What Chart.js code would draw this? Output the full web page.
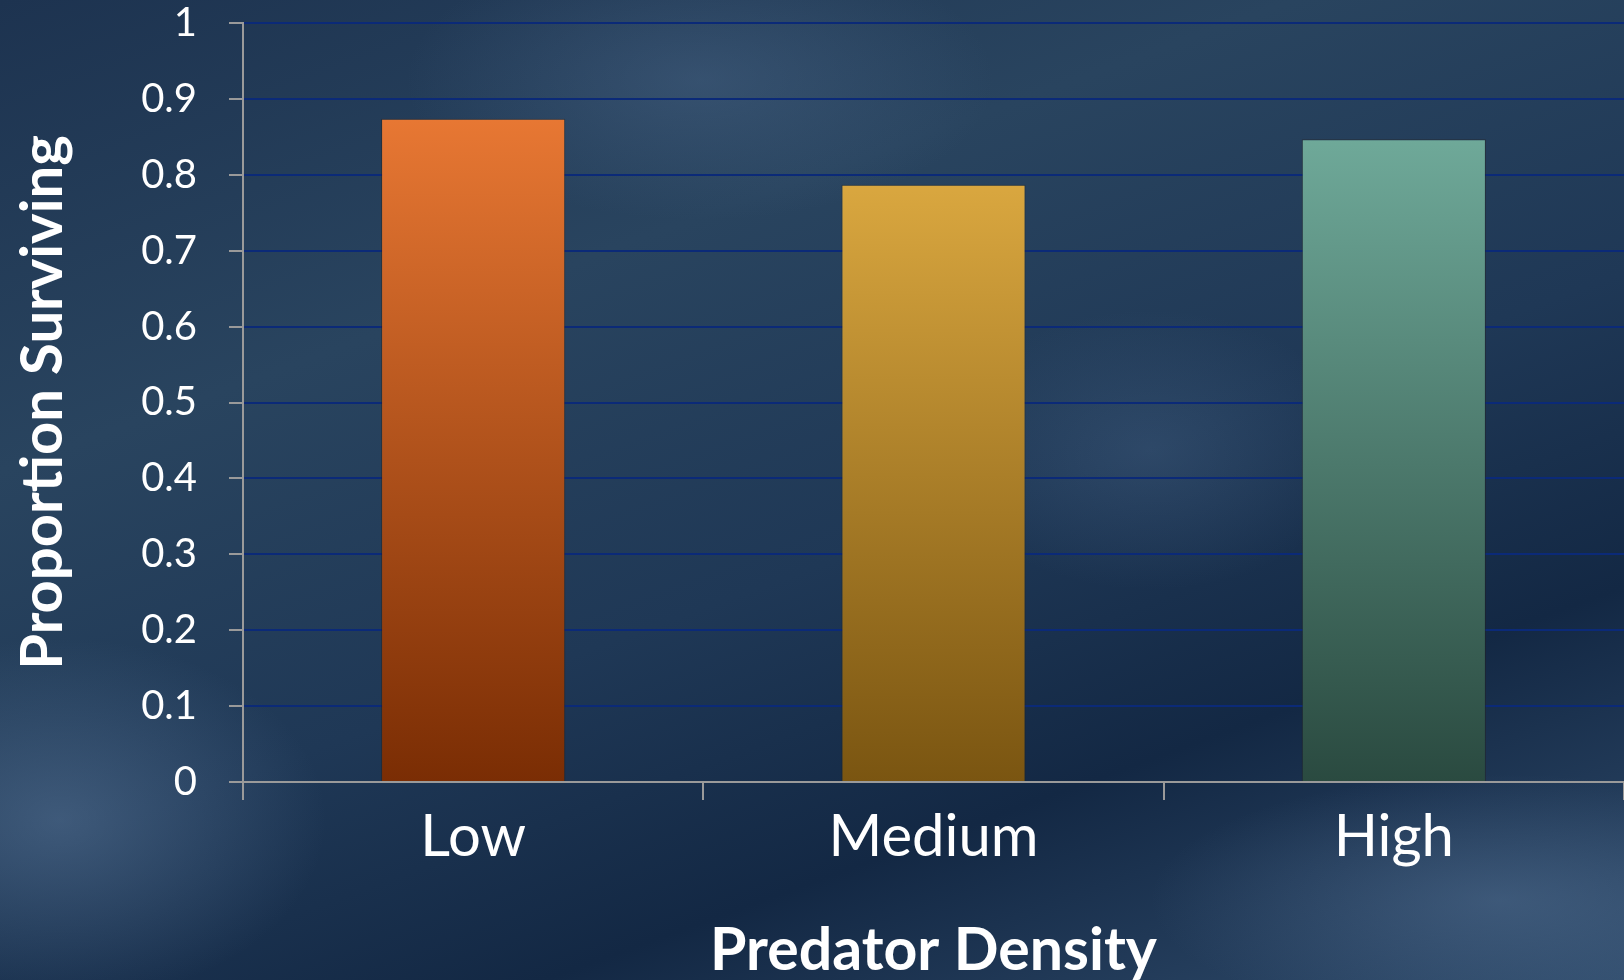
<!DOCTYPE html>
<html>
<head>
<meta charset="utf-8">
<script src="https://cdn.jsdelivr.net/npm/chart.js@4"></script>
<style>
  html, body { margin: 0; padding: 0; }
  body {
    width: 1624px; height: 980px; overflow: hidden;
    background:
      radial-gradient(ellipse 380px 260px at 60px 820px, rgba(100,130,165,0.45), rgba(100,130,165,0) 70%),
      radial-gradient(ellipse 500px 180px at 1500px 900px, rgba(95,125,160,0.4), rgba(95,125,160,0) 70%),
      radial-gradient(ellipse 420px 200px at 700px 80px, rgba(85,115,150,0.35), rgba(85,115,150,0) 70%),
      radial-gradient(ellipse 300px 200px at 1150px 450px, rgba(80,110,145,0.3), rgba(80,110,145,0) 70%),
      linear-gradient(160deg, #1d3350 0%, #29445f 30%, #1f3856 55%, #132844 75%, #304c6c 100%);
  }
  #wrap { position: absolute; left: 0; top: 0; width: 1624px; height: 980px; }
</style>
</head>
<body>
<div id="wrap"><canvas id="survivalChart"></canvas></div>
<script>
// 포식자 밀도별 생존 비율
const categories = ['Low', 'Medium', 'High'];
const survival = [0.874, 0.787, 0.847];
const yTicks = [0, 0.1, 0.2, 0.3, 0.4, 0.5, 0.6, 0.7, 0.8, 0.9, 1];

const barTop = ['#f7823a', '#f3bd4c', '#7bbaa9'];
const barBottom = ['#7a2d04', '#7a5511', '#2a4a40'];

function barFill(ctx) {
    const chart = ctx.chart;
    const area = chart.chartArea;
    if (!area) return barTop[ctx.dataIndex];
    const g = chart.ctx.createLinearGradient(0, area.top, 0, area.bottom);
    g.addColorStop(0, barTop[ctx.dataIndex]);
    g.addColorStop(1, barBottom[ctx.dataIndex]);
    return g;
}

const ctx = document.getElementById('survivalChart').getContext('2d');
new Chart(ctx, {
    type: 'bar',
    data: {
        labels: categories,
        datasets: [{
            label: 'Proportion Surviving',
            data: survival,
            backgroundColor: barFill,
            borderColor: 'rgba(40,30,20,0.45)',
            borderWidth: 1,
            barPercentage: 0.4,
            categoryPercentage: 1
        }]
    },
    options: {
        responsive: true,
        maintainAspectRatio: false,
        animation: false,
        layout: { padding: { top: 23, right: 0, bottom: 0, left: 0 } },
        plugins: { legend: { display: false }, tooltip: { enabled: false } },
        scales: {
            x: {
                grid: { display: true, drawOnChartArea: false, tickColor: '#9a9a9a', tickLength: 18, lineWidth: 2 },
                border: { color: '#9a9a9a', width: 2 },
                ticks: { color: '#ffffff', font: { family: 'Lato', size: 58 }, padding: 2 },
                title: {
                    display: true, text: 'Predator Density', color: '#ffffff',
                    font: { family: 'Lato', size: 59, weight: 'bold', lineHeight: 1.0 },
                    padding: { top: 0, bottom: 0 }
                },
                afterFit: (scale) => { scale.height = 198; }
            },
            y: {
                min: 0, max: 1,
                afterBuildTicks: (scale) => { scale.ticks = yTicks.map(v => ({ value: v })); },
                grid: { color: '#0b2a78', lineWidth: 2, tickColor: '#9a9a9a', tickLength: 14 },
                border: { color: '#9a9a9a', width: 2 },
                ticks: { color: '#ffffff', font: { family: 'Lato', size: 40 }, padding: 32, callback: (v) => String(v) },
                title: {
                    display: true, text: 'Proportion Surviving', color: '#ffffff',
                    font: { family: 'Lato', size: 58, weight: 'bold', lineHeight: 1.2 },
                    padding: { top: 8, bottom: 0 }
                },
                afterFit: (scale) => {
                    scale.width = 243;
                    // 눈금 라벨 여백이 위쪽 플롯 영역을 밀어내지 않도록
                    scale.paddingTop = 0;
                    scale.paddingBottom = 0;
                }
            }
        }
    }
});
</script>
</body>
</html>
